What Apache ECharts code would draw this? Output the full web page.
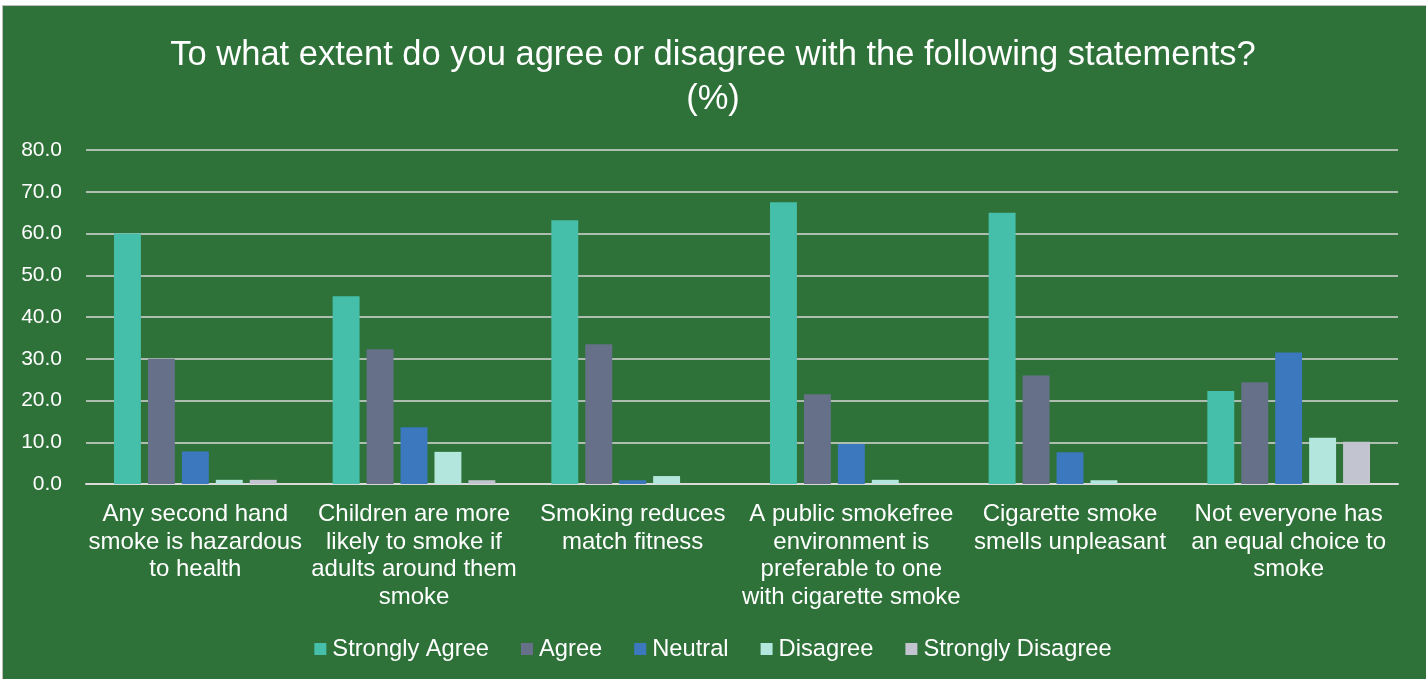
<!DOCTYPE html>
<html>
<head>
<meta charset="utf-8">
<script src="https://cdn.jsdelivr.net/npm/echarts@6/dist/echarts.min.js"></script>
<style>
html,body{margin:0;padding:0;background:#ffffff;}
#wrap{position:absolute;left:2px;top:5px;width:1424px;height:674px;background:#2E7239;border-left:1px solid #BFBFBF;border-top:1px solid #BFBFBF;box-sizing:border-box;}
#chart{position:absolute;left:-3px;top:-6px;width:1426px;height:679px;}
</style>
</head>
<body>
<div id="wrap"><div id="chart"></div></div>
<script>
var categories = [
  "Any second hand\nsmoke is hazardous\nto health",
  "Children are more\nlikely to smoke if\nadults around them\nsmoke",
  "Smoking reduces\nmatch fitness",
  "A public smokefree\nenvironment is\npreferable to one\nwith cigarette smoke",
  "Cigarette smoke\nsmells unpleasant",
  "Not everyone has\nan equal choice to\nsmoke"
];
var seriesNames = ["Strongly Agree", "Agree", "Neutral", "Disagree", "Strongly Disagree"];
var stronglyAgree = [60.0, 45.0, 63.2, 67.5, 65.0, 22.3];
var agree = [30.0, 32.3, 33.5, 21.5, 26.0, 24.4];
var neutral = [7.8, 13.6, 0.9, 9.6, 7.6, 31.5];
var disagree = [1.0, 7.7, 1.9, 1.0, 0.9, 11.1];
var stronglyDisagree = [1.0, 0.9, 0.0, 0.0, 0.0, 10.1];
var yTicks = [0, 10, 20, 30, 40, 50, 60, 70, 80];

var colors = ["#45BFA9", "#667089", "#3B78BE", "#B3E6DD", "#C2C5CF"];
var dataSets = [stronglyAgree, agree, neutral, disagree, stronglyDisagree];

var chart = echarts.init(document.getElementById('chart'));
var series = seriesNames.map(function (n, i) {
  return {
    name: n,
    type: 'bar',
    data: dataSets[i],
    barGap: '26%',
    barCategoryGap: '25.6%',
    itemStyle: { color: colors[i] }
  };
});
chart.setOption({
  backgroundColor: 'transparent',
  color: colors,
  title: {
    text: 'To what extent do you agree or disagree with the following statements?\n(%)',
    left: 'center',
    top: 28,
    textStyle: {
      color: '#ffffff',
      fontFamily: 'Liberation Sans, Arial',
      fontWeight: 'normal',
      fontSize: 34.5,
      lineHeight: 44
    }
  },
  legend: {
    data: seriesNames,
    bottom: 13,
    left: 'center',
    icon: 'rect',
    itemWidth: 12,
    itemHeight: 12,
    itemGap: 32,
    textStyle: { color: '#ffffff', fontSize: 23.7, fontFamily: 'Liberation Sans, Arial', padding: [0, 0, 0, 1] }
  },
  grid: { left: 86, right: 28, top: 150, bottom: 195, containLabel: false },
  xAxis: {
    type: 'category',
    data: categories,
    axisLine: { show: true, lineStyle: { color: '#D9D9D9', width: 2 } },
    axisTick: { show: false },
    axisLabel: {
      color: '#ffffff',
      fontSize: 24,
      lineHeight: 27.5,
      fontFamily: 'Liberation Sans, Arial',
      interval: 0,
      margin: 17
    }
  },
  yAxis: {
    type: 'value',
    min: 0,
    max: 80,
    interval: 10,
    axisLine: { show: false },
    axisTick: { show: false },
    splitLine: { lineStyle: { color: '#D9D9D9', width: 1.5 } },
    axisLabel: {
      color: '#ffffff',
      fontSize: 21,
      fontFamily: 'Liberation Sans, Arial',
      margin: 24,
      formatter: function (v) { return yTicks.indexOf(v) >= 0 ? v.toFixed(1) : ''; }
    }
  },
  series: series
});
</script>
</body>
</html>
